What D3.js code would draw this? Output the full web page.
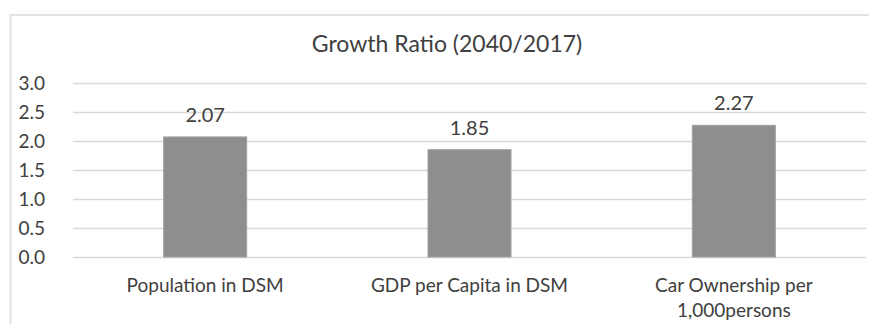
<!DOCTYPE html>
<head>
  <meta charset="utf-8">
  <script src="https://d3js.org/d3.v7.min.js"></script>
  <style>
  body { margin: 0; background: #fff; }
  text { font-family: Lato, "Open Sans", sans-serif; fill: #404040; }
  .grid line { stroke: #d9d9d9; stroke-width: 1.5px; }
  .grid .domain { display: none; }
  .y.axis .domain, .y.axis line { display: none; }
  .x.axis .domain, .x.axis line { display: none; }
  .bar { fill: #8e8e8e; stroke: #a0a0a0; stroke-width: 1px; }
  </style>
</head>

<body>
  <script>
    // chart data
    var categories = ["Population in DSM", "GDP per Capita in DSM", "Car Ownership per 1,000persons"];
    var values = [2.07, 1.85, 2.27];
    var yTicks = [0, 0.5, 1.0, 1.5, 2.0, 2.5, 3.0];
    var title = "Growth Ratio (2040/2017)";

    var W = 869, H = 324;
    var margin = {top: 83, right: 3, bottom: 67, left: 73},
        width = W - margin.left - margin.right,
        height = H - margin.top - margin.bottom;

    var svgRoot = d3.select("body").append("svg")
        .attr("width", W)
        .attr("height", H);

    // outer chart frame
    svgRoot.append("rect")
      .attr("x", 10.5).attr("y", 15)
      .attr("width", W + 10).attr("height", H + 10)
      .attr("fill", "none")
      .attr("stroke", "#e3e3e3")
      .attr("stroke-width", 2);

    // title
    svgRoot.append("text")
      .attr("x", 447)
      .attr("y", 52)
      .attr("text-anchor", "middle")
      .style("font-size", "23px")
      .text(title);

    var svg = svgRoot.append("g")
      .attr("transform", "translate(" + margin.left + "," + margin.top + ")");

    var xScale = d3.scaleBand()
        .domain(categories)
        .range([0, width])
        .paddingInner(0.686)
        .paddingOuter(0.343);

    var yScale = d3.scaleLinear()
        .domain([0, 3])
        .range([height, 0]);

    // gridlines
    svg.append("g")
      .attr("class", "grid")
      .call(d3.axisLeft(yScale).tickValues(yTicks).tickSize(-width).tickFormat(""));

    // y axis labels
    svg.append("g")
      .attr("class", "y axis")
      .attr("transform", "translate(-25,0)")
      .call(d3.axisLeft(yScale).tickValues(yTicks).tickSize(0).tickFormat(d3.format(".1f")))
      .selectAll("text")
      .style("font-size", "19px")
      .attr("fill", "#404040");

    // bars
    svg.selectAll(".bar")
      .data(values)
      .enter().append("rect")
      .attr("class", "bar")
      .attr("x", function(d, i) { return xScale(categories[i]); })
      .attr("width", xScale.bandwidth())
      .attr("y", function(d) { return yScale(d); })
      .attr("height", function(d) { return height - yScale(d); });

    // value labels
    svg.selectAll(".val")
      .data(values)
      .enter().append("text")
      .attr("class", "val")
      .attr("text-anchor", "middle")
      .attr("x", function(d, i) { return xScale(categories[i]) + xScale.bandwidth() / 2; })
      .attr("y", function(d) { return yScale(d) - 15; })
      .style("font-size", "20px")
      .text(function(d) { return d3.format(".2f")(d); });

    // x axis labels, wrapped like the original
    var xAxis = svg.append("g")
      .attr("class", "x axis")
      .attr("transform", "translate(0," + height + ")")
      .call(d3.axisBottom(xScale).tickSize(0).tickFormat(""));

    var lines = {
      "Population in DSM": ["Population in DSM"],
      "GDP per Capita in DSM": ["GDP per Capita in DSM"],
      "Car Ownership per 1,000persons": ["Car Ownership per", "1,000persons"]
    };

    xAxis.selectAll(".tick")
      .append("text")
      .attr("text-anchor", "middle")
      .style("font-size", "19px")
      .attr("fill", "#404040")
      .selectAll("tspan")
      .data(function(d) { return lines[d]; })
      .enter().append("tspan")
      .attr("x", 0)
      .attr("y", function(d, i) { return 35 + i * 25; })
      .text(function(d) { return d; });
  </script>
</body>
